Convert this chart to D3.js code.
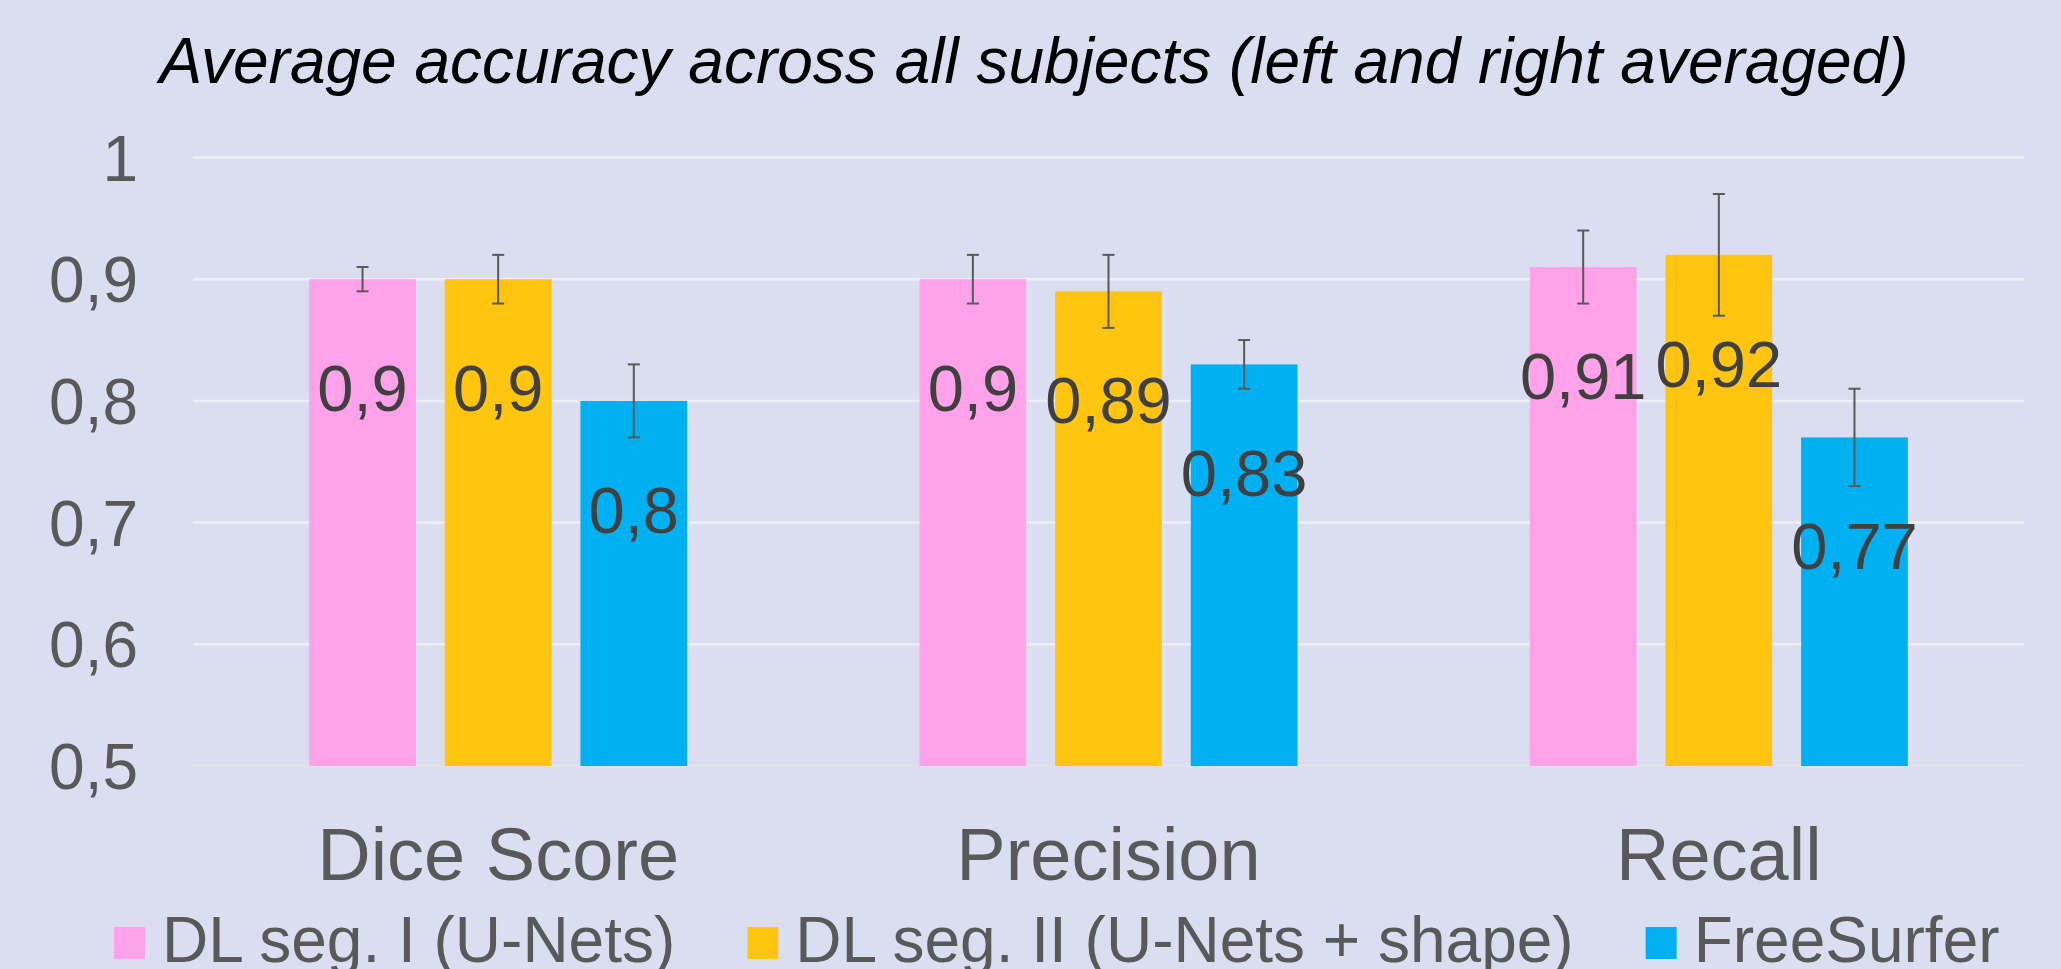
<!DOCTYPE html>
<html>
<head>
<meta charset="utf-8">
<script src="https://cdn.jsdelivr.net/npm/d3@7"></script>
<style>
  html, body { margin: 0; padding: 0; background: #DADEF0; }
  svg { display: block; font-family: "Liberation Sans", Arial, sans-serif; }
</style>
</head>
<body>
<svg id="chart" width="2061" height="969"></svg>
<script>
const title = "Average accuracy across all subjects (left and right averaged)";
const categories = ["Dice Score", "Precision", "Recall"];
const seriesNames = ["DL seg. I (U-Nets)", "DL seg. II (U-Nets + shape)", "FreeSurfer"];
const seriesColors = ["#FFA2E9", "#FFC511", "#00B0F0"];
const dlSeg1 = [0.90, 0.90, 0.91];
const dlSeg2 = [0.90, 0.89, 0.92];
const freeSurfer = [0.80, 0.83, 0.77];
const dlSeg1Err = [0.01, 0.02, 0.03];
const dlSeg2Err = [0.02, 0.03, 0.05];
const freeSurferErr = [0.03, 0.02, 0.04];
const yTicks = [0.5, 0.6, 0.7, 0.8, 0.9, 1];

(function () {
const seriesValues = [dlSeg1, dlSeg2, freeSurfer];
const seriesErrors = [dlSeg1Err, dlSeg2Err, freeSurferErr];
const fmt = v => String(+v.toFixed(2)).replace(".", ",");

const svg = d3.select("#chart");
const W = 2061, H = 969;
const pLeft = 193, pRight = 2024, pTop = 157.5, pBottom = 766;

svg.append("rect").attr("width", W).attr("height", H).attr("fill", "#DADEF0");

const y = d3.scaleLinear().domain([0.5, 1]).range([pBottom, pTop]);
const x0 = d3.scaleBand().domain(categories).range([pLeft, pRight]).padding(0);
const x1 = d3.scaleBand().domain(d3.range(seriesNames.length))
  .range([x0.bandwidth() / 6, x0.bandwidth() * 5 / 6])
  .paddingInner(0.213).paddingOuter(0.1065);

// gridlines
svg.append("g").selectAll("line").data(yTicks).join("line")
  .attr("x1", pLeft).attr("x2", pRight)
  .attr("y1", d => y(d)).attr("y2", d => y(d))
  .attr("stroke", d => d === 0.5 ? "#E2E3EA" : "#EDEEF6")
  .attr("stroke-width", 2.5);

// y labels
svg.append("g").selectAll("text").data(yTicks).join("text")
  .attr("x", 138).attr("y", d => y(d) + 23)
  .attr("text-anchor", "end")
  .attr("font-size", 64).attr("fill", "#595959")
  .text(d => fmt(d));

// bars
const flat = [];
categories.forEach((c, ci) => {
  seriesNames.forEach((s, si) => {
    flat.push({ c, si, v: seriesValues[si][ci], e: seriesErrors[si][ci] });
  });
});

const g = svg.append("g");
g.selectAll("rect.bar").data(flat).join("rect")
  .attr("class", "bar")
  .attr("x", d => x0(d.c) + x1(d.si))
  .attr("width", x1.bandwidth())
  .attr("y", d => y(d.v))
  .attr("height", d => y(0.5) - y(d.v))
  .attr("fill", d => seriesColors[d.si]);

// error bars
const eb = g.selectAll("g.err").data(flat).join("g").attr("class", "err")
  .attr("stroke", "#595959").attr("stroke-width", 2);
eb.append("line")
  .attr("x1", d => x0(d.c) + x1(d.si) + x1.bandwidth() / 2)
  .attr("x2", d => x0(d.c) + x1(d.si) + x1.bandwidth() / 2)
  .attr("y1", d => y(d.v + d.e)).attr("y2", d => y(d.v - d.e));
[1, -1].forEach(sgn => {
  eb.append("line")
    .attr("x1", d => x0(d.c) + x1(d.si) + x1.bandwidth() / 2 - 6)
    .attr("x2", d => x0(d.c) + x1(d.si) + x1.bandwidth() / 2 + 6)
    .attr("y1", d => y(d.v + sgn * d.e)).attr("y2", d => y(d.v + sgn * d.e));
});

// data labels
g.selectAll("text.lbl").data(flat).join("text")
  .attr("class", "lbl")
  .attr("x", d => x0(d.c) + x1(d.si) + x1.bandwidth() / 2)
  .attr("y", d => y(d.v) + 132)
  .attr("text-anchor", "middle")
  .attr("font-size", 65).attr("fill", "#404040")
  .text(d => fmt(d.v));

// category labels
svg.append("g").selectAll("text").data(categories).join("text")
  .attr("x", d => x0(d) + x0.bandwidth() / 2)
  .attr("y", 880)
  .attr("text-anchor", "middle")
  .attr("font-size", 74).attr("fill", "#595959")
  .text(d => d);

// title
svg.append("text")
  .attr("x", 1034).attr("y", 83)
  .attr("text-anchor", "middle")
  .attr("font-size", 64).attr("font-style", "italic").attr("fill", "#000")
  .text(title);

// legend
const leg = svg.append("g");
let lx = 114;
seriesNames.forEach((s, i) => {
  leg.append("rect").attr("x", lx).attr("y", 927).attr("width", 31).attr("height", 32)
    .attr("fill", seriesColors[i]);
  const t = leg.append("text").attr("x", lx + 48).attr("y", 962)
    .attr("font-size", 64).attr("fill", "#595959").text(s);
  lx = lx + 48 + t.node().getComputedTextLength() + 72;
});
})();
</script>
</body>
</html>
